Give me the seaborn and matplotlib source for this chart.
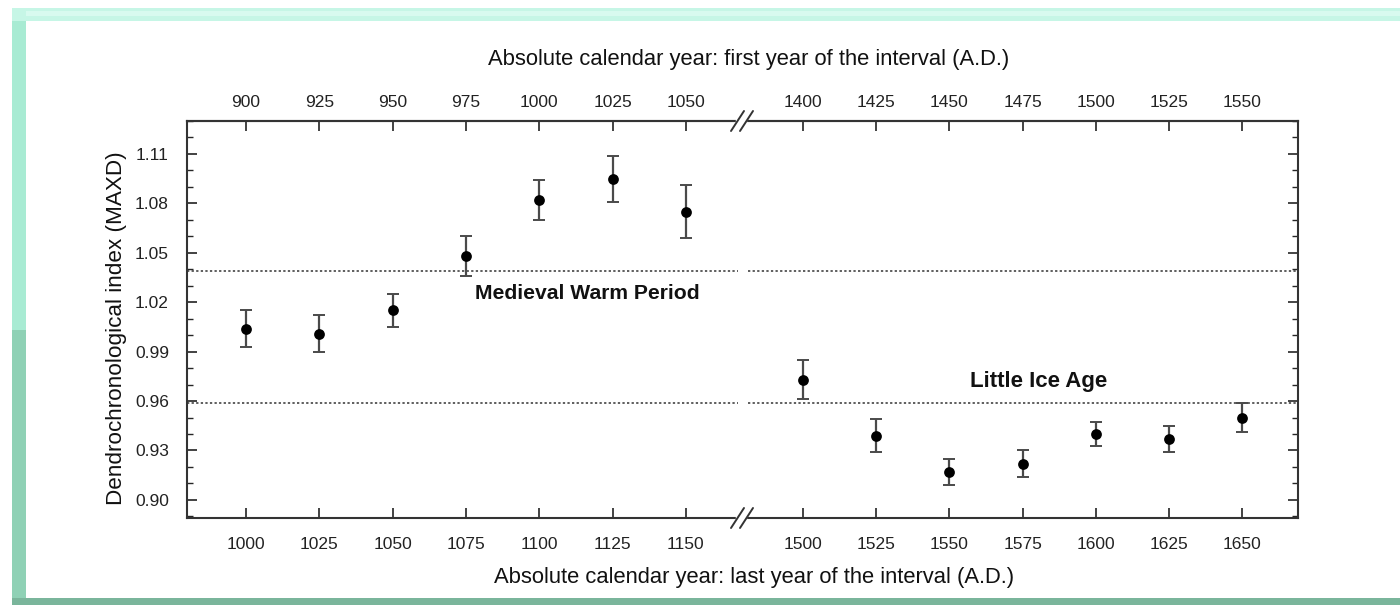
import matplotlib
matplotlib.use("Agg")
import numpy as np
import pandas as pd
import matplotlib.pyplot as plt
import seaborn as sns
from matplotlib.patches import Rectangle
from matplotlib.lines import Line2D
from matplotlib.ticker import MultipleLocator, FormatStrFormatter

# Data (last year of the interval, MAXD index, error)
early_last = [1000, 1025, 1050, 1075, 1100, 1125, 1150]
early_index = [1.004, 1.001, 1.015, 1.048, 1.082, 1.095, 1.075]
early_err = [0.011, 0.011, 0.010, 0.012, 0.012, 0.014, 0.016]

late_last = [1500, 1525, 1550, 1575, 1600, 1625, 1650]
late_index = [0.973, 0.939, 0.917, 0.922, 0.940, 0.937, 0.950]
late_err = [0.012, 0.010, 0.008, 0.008, 0.007, 0.008, 0.009]

# top axis: first year of the interval
early_first = [900, 925, 950, 975, 1000, 1025, 1050]
late_first = [1400, 1425, 1450, 1475, 1500, 1525, 1550]
interval_len = 100

warm_level = 1.039
cold_level = 0.959
y_ticks = [0.90, 0.93, 0.96, 0.99, 1.02, 1.05, 1.08, 1.11]

sns.set_style("ticks")
plt.rcParams["font.family"] = ["Liberation Sans", "DejaVu Sans"]

W, H = 1400, 605
fig = plt.figure(figsize=(W / 100, H / 100), dpi=100)
fig.patch.set_facecolor("white")


def fx(px):
    return px / W


def fy(py):
    return 1 - py / H


def frame_rect(x0, y0, x1, y1, color):
    # pixel box -> figure rectangle
    fig.add_artist(Rectangle((fx(x0), fy(y1)), fx(x1) - fx(x0), fy(y0) - fy(y1),
                             transform=fig.transFigure, color=color, lw=0, zorder=0))


# page frame
frame_rect(12, 8, 26, 330, "#a8ebd3")
frame_rect(12, 330, 26, 605, "#8fd1b5")
frame_rect(12, 8, 1400, 21, "#c6f6e6")
frame_rect(26, 11, 1400, 16, "#d8faef")
frame_rect(12, 598, 1400, 605, "#7ab59b")

ax_bottom = fy(518)
ax_height = fy(121) - fy(518)
ax1 = fig.add_axes([fx(187), ax_bottom, fx(741 - 187), ax_height])
ax2 = fig.add_axes([fx(741), ax_bottom, fx(1298 - 741), ax_height], sharey=ax1)

segments = [
    (ax1, early_last, early_index, early_err, early_first, (979.9, 1168.8)),
    (ax2, late_last, late_index, late_err, late_first, (1478.8, 1669.1)),
]

for ax, xs, ys, errs, firsts, xlim in segments:
    df = pd.DataFrame({"last": xs, "index": ys, "err": errs})
    ax.errorbar(df["last"], df["index"], yerr=df["err"], fmt="none",
                ecolor="#4a4a4a", elinewidth=1.6, capsize=4, capthick=1.4, zorder=2)
    sns.scatterplot(data=df, x="last", y="index", color="black", s=60,
                    edgecolor="black", linewidth=0, ax=ax, zorder=3, legend=False)
    ax.set_xlim(*xlim)
    ax.set_xticks(xs)
    ax.set_xlabel("")
    ax.set_ylabel("")
    ax.tick_params(axis="x", which="both", direction="in", length=7, width=1.2,
                   top=False, bottom=True, labelsize=12.5, pad=13.5, colors="#222222")
    for sp in ax.spines.values():
        sp.set_linewidth(1.5)
        sp.set_color("#333333")
    sec = ax.secondary_xaxis("top", functions=(lambda x: x - interval_len,
                                               lambda x: x + interval_len))
    sec.set_xticks(firsts)
    sec.tick_params(direction="in", length=7, width=1.2, labelsize=12.5, pad=8,
                    colors="#222222")
    sec.spines["top"].set_linewidth(1.5)
    sec.spines["top"].set_color("#333333")

ax1.set_ylim(0.889, 1.13)
ax1.set_yticks(y_ticks)
ax1.yaxis.set_major_formatter(FormatStrFormatter("%.2f"))
ax1.yaxis.set_minor_locator(MultipleLocator(0.01))
ax1.tick_params(axis="y", which="major", direction="in", length=7, width=1.2,
                left=True, right=False, labelsize=12.5, pad=13, colors="#222222")
ax1.tick_params(axis="y", which="minor", direction="in", length=4, width=1.0,
                left=True, right=False)
ax1.spines["right"].set_visible(False)

ax2.spines["left"].set_visible(False)
ax2.tick_params(axis="y", which="major", direction="in", length=7, width=1.2,
                left=False, right=True, labelleft=False, labelright=False)
ax2.tick_params(axis="y", which="minor", direction="in", length=4, width=1.0,
                left=False, right=True)

# reference levels
for ax, lo, hi in ((ax1, 0, 0.995), (ax2, 0.013, 1)):
    for level in (warm_level, cold_level):
        ax.axhline(level, xmin=lo, xmax=hi, ls=(0, (1.5, 1.5)), lw=1.1,
                   color="#333333", zorder=1)

ax1.text(1116.5, 1.0255, "Medieval Warm Period", ha="center", va="center",
         fontsize=15.2, fontweight="bold", color="#111111")
ax2.text(1580.5, 0.972, "Little Ice Age", ha="center", va="center",
         fontsize=16, fontweight="bold", color="#111111")

# axis break marks
for spine_y in (121, 518):
    fig.add_artist(Rectangle((fx(736), fy(spine_y + 2)), fx(10), fy(spine_y - 2) - fy(spine_y + 2),
                             transform=fig.transFigure, color="white", zorder=3))
    for dx in (0, 9):
        fig.add_artist(Line2D([fx(731 + dx), fx(744 + dx)],
                              [fy(spine_y + 10), fy(spine_y - 10)],
                              transform=fig.transFigure, color="#333333", lw=1.4, zorder=4))

fig.text(fx(749), fy(60), "Absolute calendar year: first year of the interval (A.D.)",
         ha="center", va="center", fontsize=15.8, color="#111111")
fig.text(fx(754), fy(577), "Absolute calendar year: last year of the interval (A.D.)",
         ha="center", va="center", fontsize=15.8, color="#111111")
fig.text(fx(117), fy(328), "Dendrochronological index (MAXD)", rotation=90,
         ha="center", va="center", fontsize=16.2, color="#111111")

fig.savefig("out.png", dpi=100)
